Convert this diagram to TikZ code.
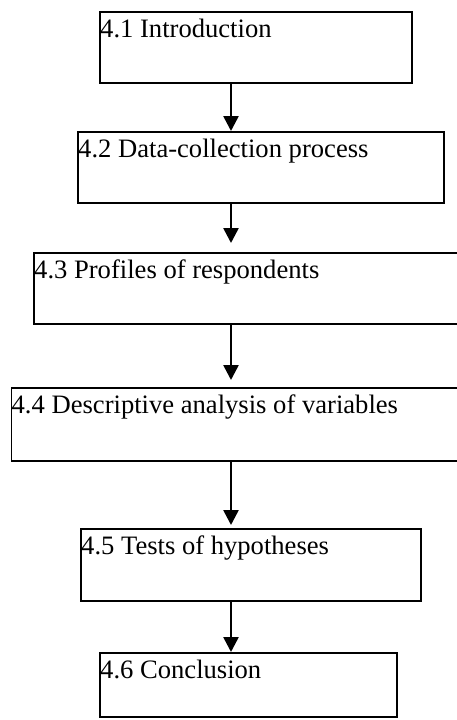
\documentclass[tikz,border=0pt]{standalone}
\usepackage{fontspec}
\setmainfont{Liberation Serif}
\usetikzlibrary{arrows.meta}
\begin{document}
\begin{tikzpicture}[x=1pt,y=-1pt,
  box/.style={draw, line width=1.8pt, inner sep=0pt, anchor=north west},
  lbl/.style={anchor=base west, inner sep=0pt, font=\fontsize{26.6}{30}\selectfont},
  arr/.style={line width=2.6pt, -{Triangle[width=15pt,length=15pt]}}]
\useasboundingbox (0,0) rectangle (457,720);
\coordinate (ax) at (231,0);
\node[box, minimum width=312pt, minimum height=71pt] (b1) at (99,11) {};
\node[box, minimum width=366pt, minimum height=71pt] (b2) at (77,131) {};
\node[box, minimum width=427pt, minimum height=71pt] (b3) at (33,252) {};
\node[box, minimum width=450pt, minimum height=73pt] (b4) at (10.5,387) {};
\node[box, minimum width=340pt, minimum height=72pt] (b5) at (80,528) {};
\node[box, minimum width=297pt, minimum height=64pt] (b6) at (99,652) {};
\node[lbl, xshift=1pt, yshift=-26pt] (t1) at (b1.north west) {4.1 Introduction};
\node[lbl, xshift=1pt, yshift=-26pt] (t2) at (b2.north west) {4.2 Data-collection process};
\node[lbl, xshift=1pt, yshift=-26pt] (t3) at (b3.north west) {4.3 Profiles of respondents};
\node[lbl, xshift=1pt, yshift=-26pt] (t4) at (b4.north west) {4.4 Descriptive analysis of variables};
\node[lbl, xshift=1pt, yshift=-26pt] (t5) at (b5.north west) {4.5 Tests of hypotheses};
\node[lbl, xshift=1pt, yshift=-26pt] (t6) at (b6.north west) {4.6 Conclusion};
\draw[arr] (b1.south -| ax) -- (b2.north -| ax);
\draw[arr, shorten >=9pt] (b2.south -| ax) -- (b3.north -| ax);
\draw[arr, shorten >=7pt] (b3.south -| ax) -- (b4.north -| ax);
\draw[arr, shorten >=3pt] (b4.south -| ax) -- (b5.north -| ax);
\draw[arr] (b5.south -| ax) -- (b6.north -| ax);
\end{tikzpicture}
\end{document}
